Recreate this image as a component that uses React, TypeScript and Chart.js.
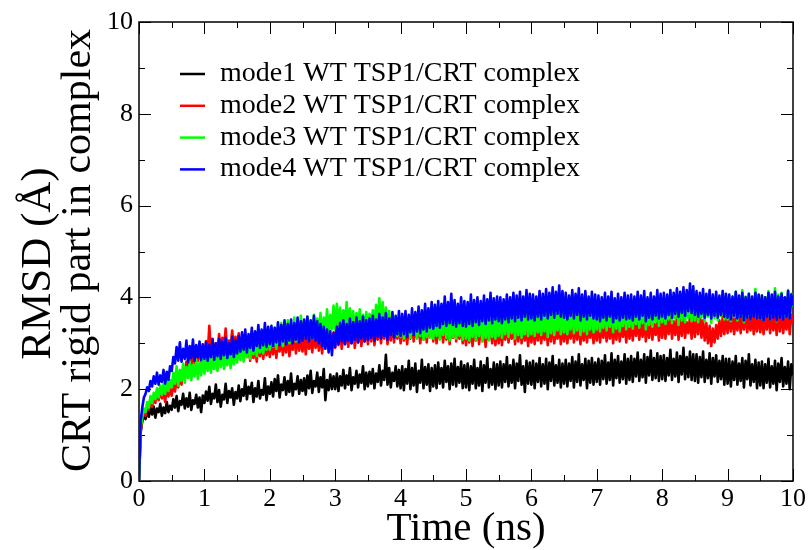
import React, { useEffect, useRef } from 'react';
import { Chart, registerables } from 'chart.js';

Chart.register(...registerables);

// Trajectory frames are saved every 0.025 ns (401 frames, 0–10 ns)
const TIME_STEP_NS = 0.025;

const seriesLabels = [
  'mode1 WT TSP1/CRT complex',
  'mode2 WT TSP1/CRT complex',
  'mode3 WT TSP1/CRT complex',
  'mode4 WT TSP1/CRT complex',
];
const seriesColors = ['#000000', '#ff0000', '#00ff00', '#0000ff'];

const xTitle = 'Time (ns)';
const yTitleLines = ['RMSD (Å)', 'CRT rigid part in complex'];

// RMSD (Å) per frame
const mode1 = [
  0, 1.05, 1.3, 1.42, 1.35, 1.55, 1.4, 1.6, 1.45, 1.62, 1.38, 1.58, 1.5, 1.68, 1.42, 1.6, 1.48, 1.72, 1.5, 1.64,
  1.55, 1.78, 1.6, 1.85, 1.52, 1.74, 1.66, 1.9, 1.58, 1.8, 1.62, 1.92, 1.55, 1.76, 1.68, 1.88, 1.6, 1.82, 1.5, 1.86,
  1.7, 1.95, 1.75, 2.05, 1.68, 1.9, 1.8, 2.1, 1.72, 1.98, 1.62, 1.88, 1.78, 2.12, 1.7, 1.96, 1.82, 2.02, 1.66, 1.94,
  1.8, 2.08, 1.74, 2.0, 1.86, 2.2, 1.78, 2.05, 1.9, 2.14, 1.72, 2.02, 1.84, 2.18, 1.8, 1.98, 1.88, 2.24, 1.76, 2.06,
  1.9, 2.15, 1.84, 2.22, 1.96, 2.3, 1.82, 2.1, 1.98, 2.26, 1.88, 2.18, 1.94, 2.34, 1.86, 2.12, 2.0, 2.28, 1.9, 2.2,
  1.96, 2.24, 1.88, 2.3, 2.02, 2.4, 1.92, 2.18, 2.06, 2.36, 1.94, 2.26, 2.04, 2.44, 1.76, 2.2, 1.98, 2.32, 2.0, 2.28,
  2.0, 2.34, 1.96, 2.28, 2.08, 2.42, 2.02, 2.3, 2.1, 2.46, 1.98, 2.26, 2.12, 2.4, 2.04, 2.32, 2.14, 2.5, 2.0, 2.36,
  2.06, 2.38, 2.12, 2.44, 2.02, 2.34, 2.16, 2.52, 2.08, 2.4, 2.2, 2.75, 2.1, 2.46, 2.04, 2.36, 2.18, 2.5, 2.06, 2.42,
  2.02, 2.5, 1.98, 2.44, 2.12, 2.62, 2.0, 2.46, 2.08, 2.56, 1.94, 2.4, 2.14, 2.64, 2.02, 2.48, 2.1, 2.54, 1.96, 2.46,
  2.06, 2.52, 2.02, 2.58, 2.12, 2.46, 2.04, 2.62, 2.16, 2.5, 2.0, 2.56, 2.1, 2.66, 2.06, 2.48, 2.14, 2.6, 2.02, 2.52,
  2.04, 2.56, 1.98, 2.5, 2.12, 2.64, 2.02, 2.46, 2.08, 2.6, 1.96, 2.52, 2.14, 2.68, 2.04, 2.44, 2.1, 2.58, 2.0, 2.54,
  2.08, 2.6, 2.04, 2.54, 2.16, 2.7, 2.06, 2.52, 2.14, 2.64, 2.02, 2.56, 2.18, 2.74, 2.1, 2.5, 1.94, 2.62, 2.12, 2.58,
  2.1, 2.62, 2.02, 2.56, 2.16, 2.68, 2.06, 2.54, 2.12, 2.66, 2.0, 2.58, 2.18, 2.72, 2.08, 2.52, 2.14, 2.64, 2.04, 2.56,
  2.12, 2.64, 2.06, 2.56, 2.18, 2.7, 2.04, 2.6, 2.16, 2.76, 2.08, 2.54, 2.2, 2.66, 2.02, 2.62, 2.14, 2.68, 2.1, 2.58,
  2.16, 2.66, 2.1, 2.62, 2.22, 2.74, 2.12, 2.58, 2.2, 2.78, 2.08, 2.64, 2.24, 2.72, 2.14, 2.6, 2.22, 2.76, 2.12, 2.66,
  2.2, 2.72, 2.16, 2.66, 2.28, 2.8, 2.18, 2.64, 2.26, 2.76, 2.14, 2.7, 2.3, 2.84, 2.2, 2.68, 2.24, 2.78, 2.18, 2.72,
  2.22, 2.74, 2.18, 2.68, 2.3, 2.86, 2.2, 2.66, 2.28, 2.8, 2.16, 2.72, 2.32, 2.9, 2.22, 2.7, 2.26, 2.82, 2.2, 2.76,
  2.18, 2.76, 2.14, 2.7, 2.26, 2.82, 2.16, 2.64, 2.24, 2.78, 2.12, 2.68, 2.28, 2.74, 2.16, 2.62, 2.22, 2.72, 2.1, 2.66,
  2.12, 2.66, 2.06, 2.6, 2.2, 2.72, 2.1, 2.56, 2.18, 2.68, 2.04, 2.62, 2.22, 2.76, 2.08, 2.54, 2.16, 2.64, 2.02, 2.58,
  2.08, 2.6, 2.02, 2.54, 2.14, 2.66, 2.04, 2.5, 2.12, 2.62, 1.98, 2.56, 2.16, 2.68, 2.06, 2.48, 2.12, 2.6, 2.0, 2.54,
  2.3,
];

const mode2 = [
  0, 1.1, 1.35, 1.5, 1.42, 1.65, 1.55, 1.78, 1.62, 1.85, 1.7, 1.95, 1.76, 2.02, 1.8, 1.96, 1.72, 2.05, 1.84, 2.0,
  1.86, 2.12, 1.95, 2.2, 2.04, 2.32, 2.1, 2.45, 2.26, 2.6, 2.4, 2.74, 2.5, 2.86, 2.56, 2.8, 2.62, 2.95, 2.6, 2.88,
  2.7, 3.05, 2.76, 3.38, 2.82, 3.1, 2.74, 3.0, 2.86, 3.2, 2.8, 3.12, 2.9, 3.32, 2.84, 3.06, 2.92, 3.28, 2.86, 3.14,
  2.9, 3.22, 2.84, 3.1, 2.78, 3.04, 2.7, 2.96, 2.62, 3.0, 2.68, 2.92, 2.6, 3.02, 2.72, 2.98, 2.66, 3.06, 2.74, 2.94,
  2.7, 3.02, 2.76, 3.1, 2.68, 3.04, 2.82, 3.16, 2.74, 3.08, 2.8, 3.2, 2.72, 3.06, 2.86, 3.14, 2.78, 3.18, 2.84, 3.12,
  2.82, 3.16, 2.76, 3.22, 2.88, 3.12, 2.8, 3.26, 2.9, 3.18, 2.84, 3.28, 2.78, 3.14, 2.92, 3.3, 2.86, 3.2, 2.94, 3.24,
  2.9, 3.55, 2.96, 3.3, 2.88, 3.22, 2.98, 3.36, 2.92, 3.26, 3.0, 3.4, 2.9, 3.28, 3.02, 3.34, 2.94, 3.24, 3.04, 3.38,
  2.98, 3.36, 3.04, 3.42, 2.96, 3.3, 3.08, 3.46, 3.0, 3.34, 3.1, 3.44, 2.98, 3.32, 3.06, 3.48, 3.02, 3.38, 3.1, 3.4,
  3.0, 3.4, 3.06, 3.46, 2.98, 3.36, 3.1, 3.5, 3.04, 3.38, 3.12, 3.44, 3.0, 3.34, 3.08, 3.48, 3.02, 3.42, 3.14, 3.46,
  3.04, 3.44, 3.0, 3.38, 3.1, 3.5, 3.02, 3.36, 3.08, 3.46, 2.98, 3.4, 3.12, 3.48, 3.04, 3.34, 3.1, 3.44, 3.0, 3.42,
  2.96, 3.38, 3.02, 3.44, 2.94, 3.32, 3.06, 3.46, 2.98, 3.36, 3.04, 3.42, 2.92, 3.3, 3.08, 3.4, 3.0, 3.44, 2.96, 3.34,
  3.0, 3.4, 2.96, 3.36, 3.08, 3.46, 3.02, 3.34, 3.1, 3.44, 2.98, 3.38, 3.04, 3.48, 3.0, 3.36, 3.06, 3.42, 2.94, 3.4,
  3.02, 3.42, 2.98, 3.38, 3.06, 3.46, 3.0, 3.36, 3.08, 3.44, 2.96, 3.4, 3.04, 3.5, 3.0, 3.34, 3.1, 3.44, 2.98, 3.38,
  3.04, 3.44, 3.0, 3.4, 3.1, 3.48, 3.02, 3.38, 3.08, 3.46, 2.98, 3.42, 3.06, 3.5, 3.02, 3.36, 3.12, 3.46, 3.0, 3.42,
  3.06, 3.46, 3.02, 3.42, 3.12, 3.5, 3.04, 3.4, 3.1, 3.48, 3.0, 3.44, 3.08, 3.52, 3.04, 3.38, 3.14, 3.48, 3.02, 3.46,
  3.1, 3.5, 3.06, 3.46, 3.16, 3.56, 3.08, 3.44, 3.14, 3.54, 3.04, 3.48, 3.12, 3.58, 3.08, 3.42, 3.18, 3.52, 3.06, 3.5,
  3.12, 3.54, 3.1, 3.5, 3.2, 3.62, 3.1, 3.48, 3.18, 3.6, 3.08, 3.52, 3.16, 3.64, 3.12, 3.46, 3.22, 3.58, 3.1, 3.56,
  3.14, 3.56, 3.2, 3.72, 3.12, 3.5, 3.06, 3.44, 3.0, 3.38, 2.94, 3.32, 3.02, 3.4, 3.1, 3.5, 3.16, 3.58, 3.2, 3.62,
  3.22, 3.62, 3.26, 3.66, 3.2, 3.58, 3.28, 3.68, 3.22, 3.6, 3.3, 3.7, 3.24, 3.56, 3.28, 3.64, 3.2, 3.6, 3.26, 3.66,
  3.24, 3.64, 3.2, 3.6, 3.3, 3.7, 3.22, 3.58, 3.28, 3.68, 3.18, 3.62, 3.26, 3.72, 3.22, 3.56, 3.3, 3.66, 3.2, 3.62,
  3.42,
];

const mode3 = [
  0, 1.15, 1.4, 1.58, 1.5, 1.72, 1.6, 1.85, 1.7, 1.92, 1.78, 2.02, 1.82, 2.08, 1.88, 2.12, 1.9, 2.18, 1.96, 2.2,
  2.04, 2.36, 2.12, 2.5, 2.08, 2.42, 2.18, 2.56, 2.14, 2.48, 2.24, 2.6, 2.2, 2.52, 2.28, 2.64, 2.22, 2.58, 2.3, 2.66,
  2.34, 2.7, 2.4, 2.76, 2.36, 2.68, 2.44, 2.8, 2.4, 2.72, 2.48, 2.84, 2.44, 2.76, 2.52, 2.88, 2.46, 2.8, 2.54, 2.9,
  2.58, 2.94, 2.64, 3.0, 2.6, 2.92, 2.7, 3.06, 2.66, 3.0, 2.76, 3.12, 2.72, 3.06, 2.8, 3.16, 2.78, 3.12, 2.86, 3.2,
  2.86, 3.24, 2.92, 3.34, 2.88, 3.28, 2.98, 3.44, 2.94, 3.36, 3.04, 3.5, 3.0, 3.4, 3.08, 3.56, 3.04, 3.46, 3.12, 3.6,
  3.08, 3.5, 3.14, 3.58, 3.1, 3.48, 3.18, 3.62, 3.12, 3.54, 3.2, 3.66, 3.16, 3.56, 3.24, 3.74, 3.2, 3.62, 3.3, 3.82,
  3.3, 3.86, 3.36, 3.78, 3.28, 3.72, 3.4, 3.9, 3.34, 3.76, 3.3, 3.7, 3.26, 3.66, 3.32, 3.74, 3.22, 3.62, 3.28, 3.68,
  3.24, 3.64, 3.3, 3.72, 3.36, 3.84, 3.42, 3.98, 3.38, 3.9, 3.32, 3.78, 3.26, 3.7, 3.22, 3.62, 3.2, 3.58, 3.16, 3.54,
  3.14, 3.52, 3.1, 3.5, 3.18, 3.56, 3.12, 3.48, 3.2, 3.6, 3.1, 3.54, 3.16, 3.58, 3.08, 3.5, 3.14, 3.56, 3.12, 3.52,
  3.1, 3.54, 3.16, 3.58, 3.08, 3.5, 3.18, 3.62, 3.12, 3.52, 3.06, 3.56, 3.14, 3.6, 3.1, 3.48, 3.16, 3.58, 3.08, 3.54,
  3.1, 3.56, 3.06, 3.5, 3.14, 3.6, 3.08, 3.52, 3.16, 3.62, 3.04, 3.54, 3.12, 3.58, 3.06, 3.5, 3.14, 3.64, 3.1, 3.56,
  3.16, 3.62, 3.12, 3.58, 3.2, 3.68, 3.14, 3.6, 3.22, 3.7, 3.1, 3.62, 3.18, 3.66, 3.12, 3.58, 3.2, 3.72, 3.16, 3.64,
  3.2, 3.66, 3.16, 3.62, 3.24, 3.74, 3.18, 3.64, 3.26, 3.78, 3.14, 3.66, 3.22, 3.7, 3.18, 3.62, 3.28, 3.8, 3.2, 3.68,
  3.24, 3.7, 3.2, 3.66, 3.3, 3.8, 3.22, 3.68, 3.28, 3.84, 3.18, 3.7, 3.26, 3.76, 3.2, 3.66, 3.3, 3.82, 3.24, 3.72,
  3.3, 3.76, 3.26, 3.72, 3.34, 3.84, 3.28, 3.74, 3.36, 3.86, 3.24, 3.76, 3.32, 3.82, 3.26, 3.72, 3.38, 3.88, 3.3, 3.8,
  3.36, 3.84, 3.32, 3.8, 3.42, 3.92, 3.34, 3.82, 3.44, 3.96, 3.3, 3.84, 3.4, 3.9, 3.36, 3.8, 3.46, 3.98, 3.38, 3.88,
  3.46, 3.94, 3.42, 3.9, 3.52, 4.02, 3.44, 3.92, 3.54, 4.06, 3.4, 3.94, 3.5, 4.0, 3.46, 3.9, 3.56, 4.08, 3.48, 3.98,
  3.5, 3.98, 3.46, 3.94, 3.56, 4.08, 3.48, 3.96, 3.58, 4.12, 3.44, 3.98, 3.54, 4.04, 3.5, 3.94, 3.6, 4.14, 3.52, 4.02,
  3.52, 4.0, 3.48, 3.96, 3.58, 4.12, 3.5, 3.98, 3.6, 4.16, 3.46, 4.02, 3.56, 4.08, 3.52, 3.96, 3.62, 4.18, 3.54, 4.04,
  3.54, 4.04, 3.5, 4.0, 3.6, 4.14, 3.52, 4.02, 3.62, 4.2, 3.48, 4.06, 3.58, 4.1, 3.54, 3.98, 3.64, 4.16, 3.56, 4.08,
  3.8,
];

const mode4 = [
  0, 1.3, 1.6, 1.82, 1.9, 2.04, 1.96, 2.18, 2.06, 2.28, 2.12, 2.36, 2.1, 2.3, 2.16, 2.42, 2.12, 2.38, 2.2, 2.5,
  2.4, 2.7, 2.56, 2.92, 2.62, 3.02, 2.6, 2.88, 2.66, 3.06, 2.58, 2.94, 2.68, 3.08, 2.62, 2.96, 2.7, 3.04, 2.64, 2.98,
  2.66, 3.02, 2.62, 2.96, 2.7, 3.08, 2.64, 3.0, 2.72, 3.1, 2.66, 3.04, 2.74, 3.12, 2.68, 3.0, 2.76, 3.14, 2.7, 3.06,
  2.78, 3.16, 2.82, 3.24, 2.86, 3.3, 2.8, 3.2, 2.9, 3.34, 2.84, 3.26, 2.94, 3.4, 2.9, 3.3, 2.96, 3.44, 2.92, 3.36,
  2.98, 3.38, 2.94, 3.34, 3.02, 3.46, 2.96, 3.4, 3.04, 3.5, 2.98, 3.42, 3.06, 3.52, 3.0, 3.44, 3.08, 3.56, 3.02, 3.48,
  3.06, 3.52, 3.1, 3.58, 3.04, 3.5, 3.12, 3.6, 3.06, 3.48, 3.0, 3.42, 2.94, 3.36, 2.88, 3.3, 2.8, 3.26, 2.74, 3.22,
  2.92, 3.36, 2.98, 3.44, 3.04, 3.5, 2.98, 3.42, 3.06, 3.54, 3.0, 3.46, 3.08, 3.56, 3.02, 3.48, 3.1, 3.58, 3.04, 3.5,
  3.08, 3.54, 3.12, 3.6, 3.06, 3.52, 3.14, 3.64, 3.1, 3.56, 3.16, 3.66, 3.08, 3.54, 3.18, 3.68, 3.12, 3.6, 3.2, 3.7,
  3.16, 3.64, 3.2, 3.7, 3.14, 3.62, 3.24, 3.76, 3.18, 3.68, 3.26, 3.8, 3.22, 3.72, 3.3, 3.86, 3.26, 3.76, 3.34, 3.9,
  3.32, 3.84, 3.38, 3.92, 3.34, 3.86, 3.42, 4.02, 3.38, 3.9, 3.44, 4.08, 3.4, 3.94, 3.36, 3.86, 3.44, 4.0, 3.38, 3.92,
  3.36, 3.9, 3.42, 4.06, 3.38, 3.94, 3.46, 4.0, 3.4, 3.92, 3.48, 4.04, 3.42, 3.96, 3.5, 4.1, 3.44, 3.98, 3.52, 4.02,
  3.48, 4.0, 3.44, 3.96, 3.52, 4.06, 3.46, 4.0, 3.54, 4.1, 3.48, 4.04, 3.56, 4.12, 3.5, 4.02, 3.58, 4.16, 3.52, 4.08,
  3.54, 4.06, 3.5, 4.02, 3.58, 4.14, 3.52, 4.08, 3.6, 4.18, 3.54, 4.1, 3.62, 4.22, 3.56, 4.12, 3.64, 4.26, 3.58, 4.14,
  3.56, 4.1, 3.52, 4.04, 3.6, 4.16, 3.54, 4.08, 3.62, 4.2, 3.5, 4.06, 3.58, 4.14, 3.52, 4.02, 3.6, 4.12, 3.54, 4.06,
  3.52, 4.04, 3.48, 4.0, 3.56, 4.1, 3.5, 4.02, 3.58, 4.12, 3.46, 3.98, 3.54, 4.08, 3.5, 4.0, 3.56, 4.1, 3.52, 4.04,
  3.54, 4.06, 3.5, 4.02, 3.58, 4.12, 3.52, 4.04, 3.6, 4.14, 3.48, 4.0, 3.56, 4.1, 3.52, 4.02, 3.6, 4.16, 3.54, 4.08,
  3.58, 4.1, 3.54, 4.06, 3.62, 4.16, 3.56, 4.1, 3.64, 4.2, 3.58, 4.12, 3.66, 4.22, 3.6, 4.16, 3.7, 4.3, 3.66, 4.24,
  3.62, 4.14, 3.58, 4.1, 3.64, 4.18, 3.56, 4.08, 3.62, 4.16, 3.54, 4.06, 3.6, 4.12, 3.56, 4.04, 3.62, 4.14, 3.58, 4.08,
  3.56, 4.06, 3.52, 4.02, 3.6, 4.12, 3.54, 4.04, 3.58, 4.1, 3.5, 4.0, 3.56, 4.08, 3.52, 4.02, 3.58, 4.1, 3.54, 4.06,
  3.54, 4.04, 3.5, 4.0, 3.58, 4.1, 3.52, 4.06, 3.56, 4.12, 3.5, 4.02, 3.56, 4.08, 3.52, 4.0, 3.58, 4.14, 3.54, 4.06,
  3.82,
];

const series = [mode1, mode2, mode3, mode4];

const SERIF = '"Liberation Serif", "Times New Roman", serif';

const gracePlugin = {
  id: 'graceFrame',
  beforeDatasetsDraw(chart: any) {
    const { ctx, chartArea: a, scales } = chart;
    const xs = scales.x;
    const ys = scales.y;
    ctx.save();
    ctx.strokeStyle = '#000';
    ctx.lineWidth = 1;
    ctx.beginPath();
    for (let k = 0; k <= 20; k++) {
      const v = k * 0.5;
      const px = Math.round(xs.getPixelForValue(v)) + 0.5;
      const len = k % 2 === 0 ? 12 : 6;
      ctx.moveTo(px, a.bottom);
      ctx.lineTo(px, a.bottom - len);
      ctx.moveTo(px, a.top);
      ctx.lineTo(px, a.top + len);
    }
    for (let k = 0; k <= 10; k++) {
      const py = Math.round(ys.getPixelForValue(k)) + 0.5;
      const len = k % 2 === 0 ? 12 : 6;
      ctx.moveTo(a.left, py);
      ctx.lineTo(a.left + len, py);
      ctx.moveTo(a.right, py);
      ctx.lineTo(a.right - len, py);
    }
    ctx.stroke();
    ctx.lineWidth = 1.5;
    ctx.strokeRect(a.left, a.top, a.right - a.left, a.bottom - a.top);
    ctx.restore();
  },
  afterDraw(chart: any) {
    const { ctx, chartArea: a } = chart;
    ctx.save();
    ctx.fillStyle = '#000';
    // x title
    ctx.font = `41px ${SERIF}`;
    ctx.textAlign = 'center';
    ctx.textBaseline = 'alphabetic';
    ctx.fillText(xTitle, (a.left + a.right) / 2, a.bottom + 59);
    // y title (two lines)
    const yLinePos = [
      { bx: a.left - 89, cy: (a.top + a.bottom) / 2 + 12, size: 43 },
      { bx: a.left - 49, cy: (a.top + a.bottom) / 2 - 1, size: 42 },
    ];
    yTitleLines.forEach((t, i) => {
      ctx.save();
      ctx.font = `${yLinePos[i].size}px ${SERIF}`;
      ctx.translate(yLinePos[i].bx, yLinePos[i].cy);
      ctx.rotate(-Math.PI / 2);
      ctx.fillText(t, 0, 0);
      ctx.restore();
    });
    // legend
    ctx.font = `28px ${SERIF}`;
    ctx.textAlign = 'left';
    seriesLabels.forEach((lab, i) => {
      const ly = a.top + 52 + i * 31.8;
      ctx.strokeStyle = seriesColors[i];
      ctx.lineWidth = 2.5;
      ctx.beginPath();
      ctx.moveTo(a.left + 41, ly);
      ctx.lineTo(a.left + 66, ly);
      ctx.stroke();
      ctx.fillStyle = '#000';
      ctx.fillText(lab, a.left + 81, ly + 7);
    });
    ctx.restore();
  },
};

export default function App() {
  const ref = useRef<HTMLCanvasElement>(null);
  useEffect(() => {
    document.body.style.margin = '0';
    const tickFont = { family: SERIF, size: 26 };
    const chart = new Chart(ref.current as HTMLCanvasElement, {
      type: 'line',
      data: {
        datasets: series.map((vals, i) => ({
          label: seriesLabels[i],
          data: vals.map((y, k) => ({ x: k * TIME_STEP_NS, y })),
          borderColor: seriesColors[i],
          backgroundColor: seriesColors[i],
          borderWidth: 2.6,
          borderJoinStyle: 'round',
          pointRadius: 0,
          tension: 0,
          fill: false,
          order: series.length - i,
        })),
      },
      options: {
        responsive: false,
        animation: false,
        events: [],
        layout: { padding: { left: 0, top: 22, right: 16, bottom: 0 } },
        plugins: { legend: { display: false }, tooltip: { enabled: false } },
        scales: {
          x: {
            type: 'linear',
            min: 0,
            max: 10,
            ticks: { stepSize: 1, font: tickFont, color: '#000', padding: 3, maxRotation: 0, autoSkip: false },
            grid: { display: false, drawTicks: false },
            border: { display: false },
            afterFit: (s: any) => { s.height = 69; },
          },
          y: {
            type: 'linear',
            min: 0,
            max: 10,
            ticks: { stepSize: 2, font: tickFont, color: '#000', padding: 6 },
            grid: { display: false, drawTicks: false },
            border: { display: false },
            afterFit: (s: any) => { s.width = 139; },
          },
        },
      } as any,
      plugins: [gracePlugin],
    });
    return () => chart.destroy();
  }, []);
  return (
    <div style={{ position: 'absolute', left: 0, top: 0, width: 809, height: 550, background: '#fff' }}>
      <canvas ref={ref} width={809} height={550} style={{ display: 'block' }} />
    </div>
  );
}
